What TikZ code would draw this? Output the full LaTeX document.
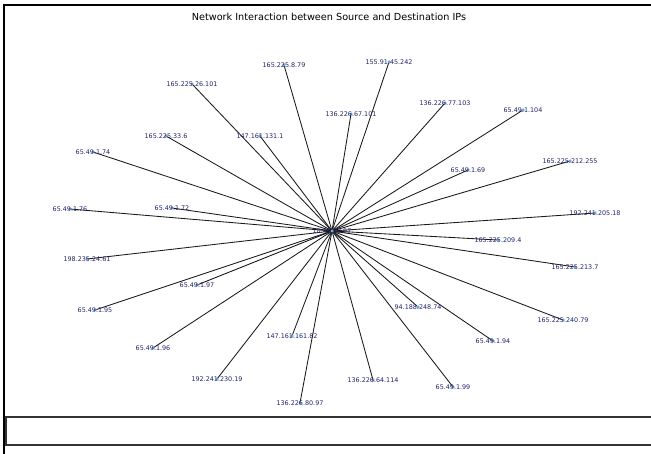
\documentclass[tikz,border=0pt]{standalone}
\usepackage{fontspec}
\setmainfont{DejaVu Sans}
\usetikzlibrary{backgrounds}
\definecolor{lblcol}{RGB}{35,35,105}
\definecolor{dotcol}{RGB}{110,170,225}
\tikzset{
  dot/.style={circle,fill=dotcol,inner sep=0pt,minimum size=3.5pt},
  lbl/.style={text=lblcol,font=\fontsize{6.4}{7}\selectfont,inner sep=0pt},
  edge/.style={draw=black!90,line width=0.85pt},
  frame/.style={line width=2pt,black},
  boxline/.style={line width=1.3pt,black!80}
}
\begin{document}
\begin{tikzpicture}[x=1pt,y=-1pt]
\useasboundingbox (0,0) rectangle (651,454);
\draw[frame] (651,5) -- (4,5) -- (4,454);
\draw[boxline] (6,417) rectangle (655,445);
\node[font=\fontsize{9.7}{11}\selectfont] (title) at (329,17) {Network Interaction between Source and Destination IPs};

\node[dot] (c) at (332,231) {};
\foreach \n/\x/\y/\t in {
  a1/284/65/165.225.8.79,
  a2/192/84/165.225.26.101,
  a3/166/136/165.225.33.6,
  a4/260/136/147.161.131.1,
  a5/93/152/65.49.1.74,
  a6/389/62/155.91.45.242,
  a7/351/114/136.226.67.101,
  a8/445/103/136.226.77.103,
  a9/523/110/65.49.1.104,
  a10/570/161/165.225.212.255,
  a11/468/170/65.49.1.69,
  a12/595/213/192.241.205.18,
  a13/498/240/165.225.209.4,
  a14/575/267/165.225.213.7,
  a15/70/209/65.49.1.76,
  a16/172/208/65.49.1.72,
  a17/87/259/198.235.24.61,
  a18/197/285/65.49.1.97,
  a19/95/310/65.49.1.95,
  a20/153/348/65.49.1.96,
  a21/217/379/192.241.230.19,
  a22/292/336/147.161.161.82,
  a23/300/403/136.226.80.97,
  a24/418/307/94.188.248.74,
  a25/563/320/165.225.240.79,
  a26/493/341/65.49.1.94,
  a27/373/380/136.226.64.114,
  a28/453/387/65.49.1.99}
{
  \node[dot] (\n) at (\x,\y) {};
  \node[lbl] (\n l) at (\n) {\t};
  \begin{pgfonlayer}{background}
    \draw[edge] (c.center) -- (\n.center);
  \end{pgfonlayer}
}
\node[lbl] (cl) at (c) {10.49.12.97};
\end{tikzpicture}
\end{document}
